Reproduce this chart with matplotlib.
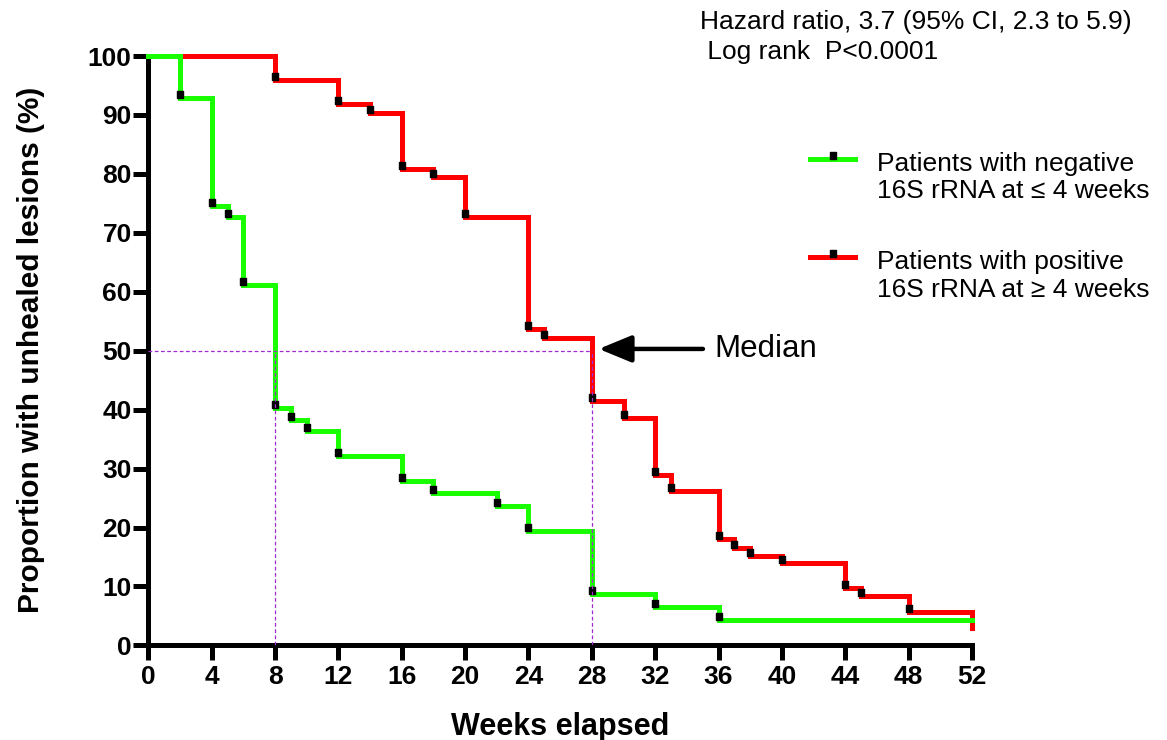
import numpy as np
import matplotlib
matplotlib.use("Agg")
import matplotlib.pyplot as plt
from matplotlib.path import Path
from matplotlib.lines import Line2D

plt.rcParams['font.family'] = ['Liberation Sans', 'DejaVu Sans']

# Kaplan-Meier steps (weeks, % unhealed)
neg_weeks = [0, 2, 4, 5, 6, 8, 9, 10, 12, 16, 18, 22, 24, 28, 32, 36, 52]
neg_pct = [100, 92.9, 74.6, 72.6, 61.1, 40.2, 38.2, 36.3, 32.2, 27.9, 25.8,
           23.7, 19.4, 8.7, 6.5, 4.3, 4.3]
pos_weeks = [0, 8, 12, 14, 16, 18, 20, 24, 25, 28, 30, 32, 33, 36, 37, 38,
             40, 44, 45, 48, 52]
pos_pct = [100, 95.9, 91.9, 90.4, 80.8, 79.5, 72.7, 53.6, 52.2, 41.4, 38.5,
           28.9, 26.2, 18.1, 16.5, 15.2, 13.9, 9.8, 8.4, 5.7, 2.9]

medians = [8, 28]
labels = ["Patients with negative\n16S rRNA at \u2264 4 weeks",
          "Patients with positive\n16S rRNA at \u2265 4 weeks"]
colors = ["#1aff00", "#ff0000"]
xticks = np.arange(0, 53, 4)
yticks = np.arange(0, 101, 10)

# small black tick mark that sits on top of the step line
mark = Path([(-0.36, 0), (0.36, 0), (0.36, 1), (-0.36, 1), (-0.36, 0)],
            [Path.MOVETO, Path.LINETO, Path.LINETO, Path.LINETO, Path.CLOSEPOLY])

W, H = 1167, 740
fig = plt.figure(figsize=(W / 100, H / 100), dpi=100)
ax = fig.add_axes([148.3 / W, (H - 645.4) / H, (972 - 148.3) / W, (645.4 - 56) / H])

# red first, green on top
for wk, pct, col, z in [(pos_weeks, pos_pct, colors[1], 2), (neg_weeks, neg_pct, colors[0], 3)]:
    ax.step(wk, pct, where='post', color=col, lw=3.6, zorder=z, clip_on=False,
            solid_joinstyle='miter')
    ax.plot(wk[1:-1], pct[1:-1], ls='none', marker=mark, ms=10.5, color='black',
            zorder=4, clip_on=False)

# median guide lines
dash_col = '#a22bd0'
ax.plot([0, medians[1]], [50, 50], color=dash_col, lw=0.9, dashes=(3, 2), zorder=5)
for m in medians:
    ax.plot([m, m], [0, 50], color=dash_col, lw=0.9, dashes=(3, 2), zorder=5)

ax.annotate('', xy=(medians[1], 50.3), xytext=(80, 0), textcoords='offset points',
            arrowprops=dict(arrowstyle='-|>,head_length=0.8,head_width=0.33',
                            mutation_scale=25, lw=3.2, color='black',
                            shrinkA=0, shrinkB=5))
ax.annotate('Median', xy=(medians[1], 50), xytext=(88, -4.5), textcoords='offset points',
            fontsize=22.5, va='baseline', ha='left')

ax.set_xlim(0, 52)
ax.set_ylim(0, 100)
ax.set_xticks(xticks)
ax.set_yticks(yticks)
for s in ['top', 'right']:
    ax.spines[s].set_visible(False)
for s in ['left', 'bottom']:
    ax.spines[s].set_linewidth(3.6)
ax.tick_params(direction='out', length=11, width=3.6, labelsize=19)
ax.tick_params(axis='y', pad=1)
ax.tick_params(axis='x', pad=3)
for t in ax.get_xticklabels() + ax.get_yticklabels():
    t.set_fontweight('bold')

fig.text(560 / W, 1 - 735 / H, 'Weeks elapsed', fontsize=22, fontweight='bold',
         ha='center', va='baseline')
fig.text(31 / W, 1 - 350 / H, 'Proportion with unhealed lesions (%)', fontsize=21.5,
         fontweight='bold', rotation=90, ha='center', va='center')

fig.text(700 / W, 1 - 29.3 / H, 'Hazard ratio, 3.7 (95% CI, 2.3 to 5.9)', fontsize=19,
         va='baseline')
fig.text(700 / W, 1 - 59.3 / H, ' Log rank  P<0.0001', fontsize=19, va='baseline')

# legend drawn by hand so the key sits on the first text line
for lab, col, ly, ty in [(labels[0], colors[0], 159, 198.3), (labels[1], colors[1], 257.3, 296.6)]:
    fig.add_artist(Line2D([810 / W, 855 / W], [1 - ly / H, 1 - ly / H], color=col, lw=3.6,
                          transform=fig.transFigure))
    fig.add_artist(Line2D([832.5 / W], [1 - ly / H], marker=mark, ms=10.5, color='black',
                          ls='none', transform=fig.transFigure))
    fig.text(877 / W, 1 - ty / H, lab, fontsize=19, va='baseline', linespacing=1.2)

fig.savefig('out.png', dpi=100)
